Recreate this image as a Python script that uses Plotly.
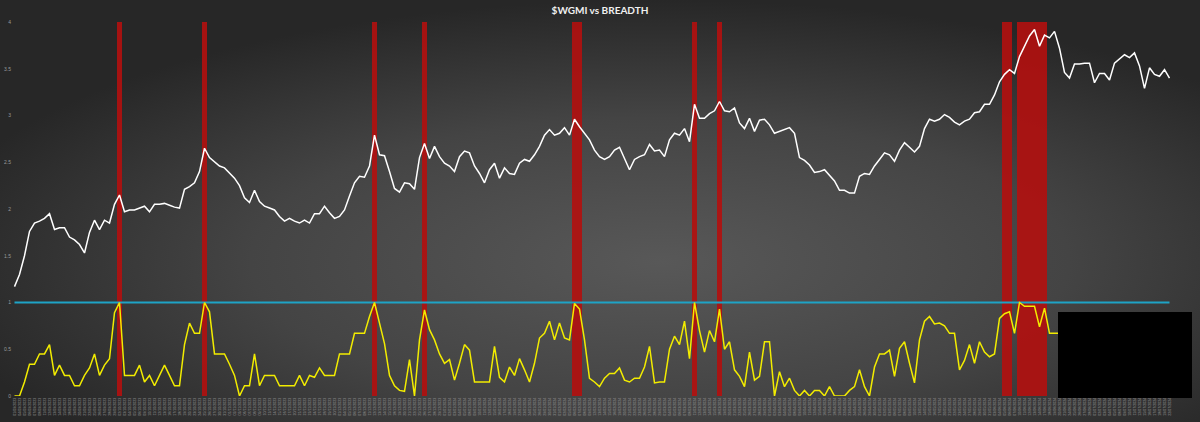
import base64
import pandas as pd
import plotly.graph_objects as go

# ── Data ──────────────────────────────────────────────────────────
price = [
    1.17, 1.30, 1.50, 1.76, 1.85, 1.87, 1.90, 1.95, 1.78, 1.80,
    1.80, 1.70, 1.67, 1.62, 1.53, 1.75, 1.88, 1.78, 1.88, 1.85,
    2.05, 2.15, 1.97, 1.99, 1.99, 2.01, 2.03, 1.97, 2.05, 2.05,
    2.06, 2.04, 2.02, 2.01, 2.21, 2.24, 2.28, 2.40, 2.65, 2.55,
    2.50, 2.46, 2.44, 2.38, 2.33, 2.25, 2.12, 2.07, 2.20, 2.08,
    2.03, 2.01, 1.99, 1.92, 1.87, 1.90, 1.87, 1.85, 1.88, 1.85,
    1.95, 1.95, 2.03, 1.96, 1.90, 1.92, 1.99, 2.14, 2.28, 2.35,
    2.34, 2.46, 2.79, 2.58, 2.57, 2.40, 2.22, 2.18, 2.28, 2.27,
    2.21, 2.55, 2.70, 2.54, 2.67, 2.56, 2.49, 2.46, 2.40, 2.56,
    2.62, 2.60, 2.46, 2.38, 2.28, 2.42, 2.49, 2.33, 2.44, 2.38,
    2.37, 2.49, 2.53, 2.51, 2.58, 2.67, 2.79, 2.85, 2.79, 2.81,
    2.87, 2.79, 2.96, 2.88, 2.81, 2.74, 2.63, 2.56, 2.53,
    2.56, 2.63, 2.66, 2.54, 2.42, 2.53, 2.56, 2.58, 2.69, 2.62,
    2.63, 2.56, 2.74, 2.81, 2.79, 2.86, 2.72, 3.12, 2.97, 2.97,
    3.02, 3.05, 3.15, 3.05, 3.04, 3.08, 2.92, 2.86, 2.97, 2.83,
    2.95, 2.96, 2.90, 2.81, 2.83, 2.85, 2.87, 2.81, 2.55, 2.52,
    2.47, 2.39, 2.40, 2.42, 2.36, 2.30, 2.20, 2.20, 2.17, 2.17,
    2.35, 2.38, 2.37, 2.46, 2.53, 2.60, 2.58, 2.51, 2.63,
    2.71, 2.66, 2.61, 2.67, 2.86, 2.96, 2.94, 2.96, 3.01, 2.98,
    2.93, 2.90, 2.94, 2.96, 3.03, 3.04, 3.12, 3.12, 3.22, 3.36,
    3.44, 3.49, 3.45, 3.63, 3.74, 3.85, 3.92, 3.74, 3.86, 3.83,
    3.90, 3.72, 3.46, 3.40, 3.55, 3.55, 3.56, 3.56, 3.35, 3.45,
    3.45, 3.38, 3.56, 3.60, 3.65, 3.62, 3.67, 3.53, 3.29, 3.51,
    3.44, 3.42, 3.49, 3.40,
]

breadth = [
    0.00, 0.00, 0.15, 0.34, 0.34, 0.45, 0.45, 0.55, 0.22, 0.33,
    0.22, 0.22, 0.11, 0.11, 0.22, 0.30, 0.45, 0.22, 0.33, 0.40,
    0.89, 1.00, 0.22, 0.22, 0.22, 0.33, 0.15, 0.22, 0.11, 0.22,
    0.33, 0.22, 0.11, 0.11, 0.55, 0.78, 0.67, 0.67, 1.00, 0.90,
    0.45, 0.45, 0.45, 0.34, 0.22, 0.00, 0.11, 0.11, 0.45, 0.11,
    0.22, 0.22, 0.22, 0.11, 0.11, 0.11, 0.11, 0.22, 0.11, 0.22,
    0.20, 0.30, 0.22, 0.22, 0.22, 0.45, 0.45, 0.45, 0.67, 0.67,
    0.67, 0.85, 1.00, 0.78, 0.56, 0.22, 0.11, 0.06, 0.05, 0.39,
    0.00, 0.60, 0.92, 0.71, 0.60, 0.45, 0.35, 0.39, 0.17, 0.35,
    0.55, 0.49, 0.15, 0.15, 0.15, 0.15, 0.53, 0.20, 0.15, 0.31,
    0.22, 0.40, 0.28, 0.15, 0.35, 0.62, 0.67, 0.80, 0.60, 0.78,
    0.62, 0.60, 0.99, 0.93, 0.60, 0.19, 0.15, 0.10, 0.19,
    0.24, 0.24, 0.30, 0.17, 0.15, 0.19, 0.19, 0.31, 0.53, 0.14,
    0.15, 0.15, 0.50, 0.64, 0.55, 0.80, 0.40, 1.00, 0.70, 0.47,
    0.70, 0.58, 0.93, 0.50, 0.58, 0.28, 0.21, 0.10, 0.47, 0.17,
    0.21, 0.58, 0.58, 0.00, 0.26, 0.10, 0.19, 0.06, 0.00, 0.06,
    0.00, 0.06, 0.06, 0.00, 0.10, 0.00, 0.00, 0.00, 0.06, 0.10,
    0.28, 0.10, 0.00, 0.31, 0.45, 0.45, 0.49, 0.21, 0.51,
    0.58, 0.35, 0.14, 0.60, 0.80, 0.85, 0.77, 0.78, 0.75, 0.67,
    0.67, 0.28, 0.38, 0.55, 0.35, 0.58, 0.47, 0.42, 0.45, 0.83,
    0.88, 0.90, 0.67, 1.00, 0.96, 0.96, 0.96, 0.74, 0.94, 0.67,
    0.67, 0.67, 0.70, 0.74, 0.70, 0.67, 0.63, 0.67, 0.70, 0.74,
    0.78, 0.74, 0.70, 0.67, 0.63, 0.60, 0.63, 0.67, 0.70, 0.67,
    0.63, 0.60, 0.63, 0.60,
]

# positions where breadth signal fired (red columns)
signal_idx = [21, 38, 72, 82, 112, 113, 136, 141,
              198, 199, 201, 202, 203, 204, 205, 206]

threshold = 1.0
dates = pd.bdate_range("2023-09-01", periods=len(price)).strftime("%d/%m/%Y").tolist()
y_ticks = [0, 0.5, 1, 1.5, 2, 2.5, 3, 3.5, 4]

signal_x = [dates[i] for i in signal_idx]
signal_y = [4.0] * len(signal_idx)

# ── Background: radial grey gradient like the Excel chart area ────
svg = (
    '<svg xmlns="http://www.w3.org/2000/svg" width="1200" height="422">'
    '<defs><radialGradient id="g" cx="55%" cy="62%" r="62%">'
    '<stop offset="0" stop-color="#585858"/>'
    '<stop offset="0.55" stop-color="#444444"/>'
    '<stop offset="1" stop-color="#272727"/>'
    '</radialGradient></defs>'
    '<rect width="1200" height="422" fill="url(#g)"/></svg>'
)
bg_src = "data:image/svg+xml;base64," + base64.b64encode(svg.encode()).decode()

W, H = 1200, 422
L, R, T, B = 12, 28, 22, 26
pw, ph = W - L - R, H - T - B

fig = go.Figure()

fig.add_trace(go.Bar(
    x=signal_x, y=signal_y,
    marker=dict(color="#b3100f", line=dict(width=0)),
    width=0.92, opacity=0.9,
    hoverinfo="skip", showlegend=False,
))
fig.add_trace(go.Scatter(
    x=dates, y=price, mode="lines",
    line=dict(color="#ffffff", width=1.5),
    name="$WGMI", showlegend=False,
))
fig.add_trace(go.Scatter(
    x=[dates[0], dates[-1]], y=[threshold, threshold], mode="lines",
    line=dict(color="#1ea3c6", width=2),
    name="Threshold", showlegend=False,
))
fig.add_trace(go.Scatter(
    x=dates, y=breadth, mode="lines",
    line=dict(color="#f2ec00", width=1.5),
    name="Breadth", showlegend=False,
))

fig.update_layout(
    width=W, height=H,
    margin=dict(l=L, r=R, t=T, b=B, autoexpand=False),
    paper_bgcolor="#333333",
    plot_bgcolor="rgba(0,0,0,0)",
    title=dict(text="<b>$WGMI vs BREADTH</b>", x=0.5, xanchor="center",
               y=1 - 10 / H, yanchor="middle",
               font=dict(family="Lato", size=10, color="#f0f0f0")),
    bargap=0,
    xaxis=dict(
        type="category", categoryorder="array", categoryarray=dates,
        dtick=1, tickangle=-90, automargin=False,
        tickfont=dict(family="Liberation Sans Narrow, Liberation Sans", size=3.6, color="#9a9a9a"),
        showgrid=False, showline=False, zeroline=False, ticks="",
        range=[-0.5, len(dates) - 0.5],
    ),
    yaxis=dict(
        range=[0, 4], tickmode="array", tickvals=y_ticks, automargin=False,
        ticktext=[f"{v:g}" for v in y_ticks],
        tickfont=dict(family="Liberation Sans", size=5, color="#9a9a9a"),
        showgrid=False, showline=False, zeroline=False, ticks="",
    ),
    yaxis2=dict(
        overlaying="y", side="right", range=[0, 1.667], automargin=False,
        tickvals=[0, 1], ticktext=["0", "10"],
        tickfont=dict(family="Liberation Sans", size=4, color="#8a8a8a"),
        showgrid=False, showline=False, zeroline=False, ticks="",
        ticklabelstandoff=14,
    ),
    images=[dict(
        source=bg_src, xref="paper", yref="paper",
        x=-L / pw, y=1 + T / ph, sizex=W / pw, sizey=H / ph,
        xanchor="left", yanchor="top", sizing="stretch", layer="below",
    )],
    shapes=[dict(
        type="rect", xref="paper", yref="paper", layer="above",
        x0=(1058 - L) / pw, x1=(1192 - L) / pw,
        y0=(H - B - 398) / ph, y1=(H - B - 312) / ph,
        fillcolor="#000000", line=dict(width=0),
    )],
)

# drop the default page margin so the chart sits flush in the window
fig.write_html("out.html", config={"displayModeBar": False},
               post_script="document.body.style.margin='0';")
